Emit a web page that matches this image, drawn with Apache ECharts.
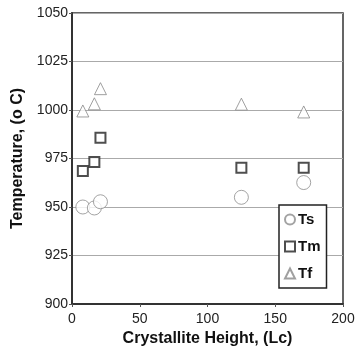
<!DOCTYPE html>
<html><head><meta charset="utf-8">
<script src="https://cdn.jsdelivr.net/npm/echarts@6/dist/echarts.min.js"></script>
<style>html,body{margin:0;padding:0;background:#fff}#c{width:360px;height:357px}</style>
</head><body><div id="c"></div>
<script>
const xTicks = [0, 50, 100, 150, 200];
const yTicks = [900, 925, 950, 975, 1000, 1025, 1050];
const lcValues = [8, 16.5, 21, 125, 171];
const tsValues = [950, 949.5, 952.7, 955, 962.6];
const tmValues = [968.6, 973.2, 985.7, 970.2, 970.2];
const tfValues = [999.5, 1003.2, 1011, 1003, 999];
const seriesNames = ['Ts', 'Tm', 'Tf'];

const font = 'Liberation Sans, Arial, Helvetica, sans-serif';
const pairs = vals => lcValues.map((x, i) => [x, vals[i]]);

const chart = echarts.init(document.getElementById('c'), null, {renderer: 'canvas'});
chart.setOption({
  animation: false,
  backgroundColor: '#fff',
  grid: {left: 72, right: 17, top: 13, bottom: 53, show: true, borderColor: '#333', borderWidth: 1.5, backgroundColor: 'transparent'},
  xAxis: {
    type: 'value', min: xTicks[0], max: xTicks[xTicks.length - 1], interval: 50,
    name: 'Crystallite Height, (Lc)', nameLocation: 'middle', nameGap: 27,
    nameTextStyle: {fontFamily: font, fontWeight: 'bold', fontSize: 16, color: '#111'},
    axisLine: {lineStyle: {color: '#333', width: 2}},
    axisTick: {show: true, length: 3, lineStyle: {color: '#555'}},
    axisLabel: {fontFamily: font, fontSize: 14, color: '#222', margin: 8, formatter: v => String(v)},
    splitLine: {show: false}
  },
  yAxis: {
    type: 'value', min: yTicks[0], max: yTicks[yTicks.length - 1], interval: 25,
    name: 'Temperature, (o C)', nameLocation: 'middle', nameGap: 42,
    nameTextStyle: {fontFamily: font, fontWeight: 'bold', fontSize: 16, color: '#111'},
    axisLine: {show: true, lineStyle: {color: '#333', width: 2}},
    axisTick: {show: true, length: 3, lineStyle: {color: '#555'}},
    axisLabel: {fontFamily: font, fontSize: 14, color: '#222', margin: 4, formatter: v => String(v)},
    splitLine: {show: true, lineStyle: {color: '#aaa', width: 1}}
  },
  legend: {
    orient: 'vertical', left: 279, top: 205,
    data: seriesNames,
    backgroundColor: '#fff', borderColor: '#222', borderWidth: 1.5,
    padding: [7, 6, 7, 5], itemGap: 12, itemWidth: 10, itemHeight: 10,
    textStyle: {fontFamily: font, fontWeight: 'bold', fontSize: 15, color: '#111', padding: [0, 0, 0, -2]}
  },
  series: [
    {name: 'Ts', type: 'scatter', data: pairs(tsValues), symbol: 'circle', symbolSize: 14,
     itemStyle: {color: '#fff', borderColor: '#8c8c8c', borderWidth: 1}},
    {name: 'Tm', type: 'scatter', data: pairs(tmValues), symbol: 'rect', symbolSize: 10,
     itemStyle: {color: '#fff', borderColor: '#222', borderWidth: 2}},
    {name: 'Tf', type: 'scatter', data: pairs(tfValues), symbol: 'triangle', symbolSize: 12,
     itemStyle: {color: '#fff', borderColor: '#888', borderWidth: 1}}
  ]
});
</script></body></html>
